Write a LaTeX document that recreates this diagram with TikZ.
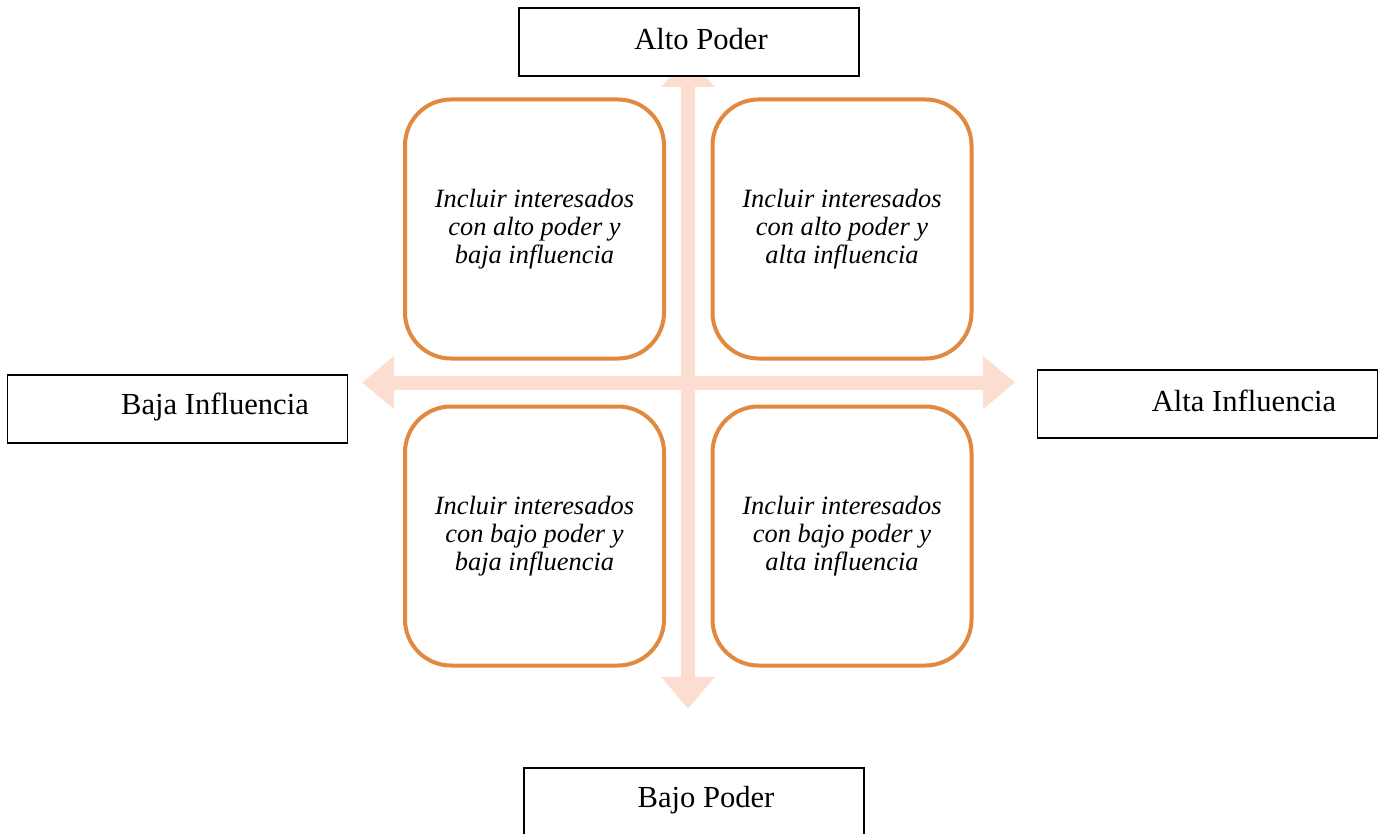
\documentclass[tikz,border=0pt]{standalone}
\usepackage{fontspec}
\setmainfont{Liberation Serif}
\usetikzlibrary{arrows.meta}
\definecolor{quadline}{RGB}{226,137,64}
\definecolor{axisfill}{RGB}{252,222,208}
\tikzset{
  axisarrow/.style={draw=axisfill, line width=7pt,
    {Triangle[width=25.5pt,length=16pt]}-{Triangle[width=25.5pt,length=16pt]}},
  quadbox/.style={draw=quadline, line width=2pt, rounded corners=23pt,
    minimum width=129.5pt, minimum height=129.5pt, fill=white,
    align=center, font=\itshape\fontsize{13.2pt}{14pt}\selectfont},
  labelbox/.style={draw=black, line width=0.7pt, fill=white,
    minimum width=170pt, minimum height=34pt, inner sep=0pt},
  labeltext/.style={font=\fontsize{15.3pt}{18pt}\selectfont, inner sep=0pt}
}
\begin{document}
\begin{tikzpicture}[x=0.5pt,y=-0.5pt]
\useasboundingbox (0,0) rectangle (1385,834);
\clip (0,0) rectangle (1385,834);

% axis ends
\coordinate (left) at (362,382.5);
\coordinate (right) at (1015,382.5);
\coordinate (top) at (688,55);
\coordinate (bottom) at (688,709);

% two double-headed axes
\draw[axisarrow] (left) -- (right);
\draw[axisarrow] (top) -- (bottom);

% four quadrants
\node[quadbox] (q1) at (534.5,229) {Incluir interesados\\con alto poder y\\baja influencia};
\node[quadbox] (q2) at (842,229) {Incluir interesados\\con alto poder y\\alta influencia};
\node[quadbox] (q3) at (534.5,536) {Incluir interesados\\con bajo poder y\\baja influencia};
\node[quadbox] (q4) at (842,536) {Incluir interesados\\con bajo poder y\\alta influencia};

% axis labels
\node[labelbox] (alto) at (689,42) {};
\node[labeltext] (altotext) at (701,39) {Alto Poder};
\node[labelbox] (baja) at (177.5,409) {};
\node[labeltext] (bajatext) at (215,407) {Baja Influencia};
\node[labelbox] (alta) at (1207.5,404) {};
\node[labeltext] (altatext) at (1244,401) {Alta Influencia};
\node[labelbox] (bajo) at (694,802) {};
\node[labeltext] (bajotext) at (706,800) {Bajo Poder};
\end{tikzpicture}
\end{document}
